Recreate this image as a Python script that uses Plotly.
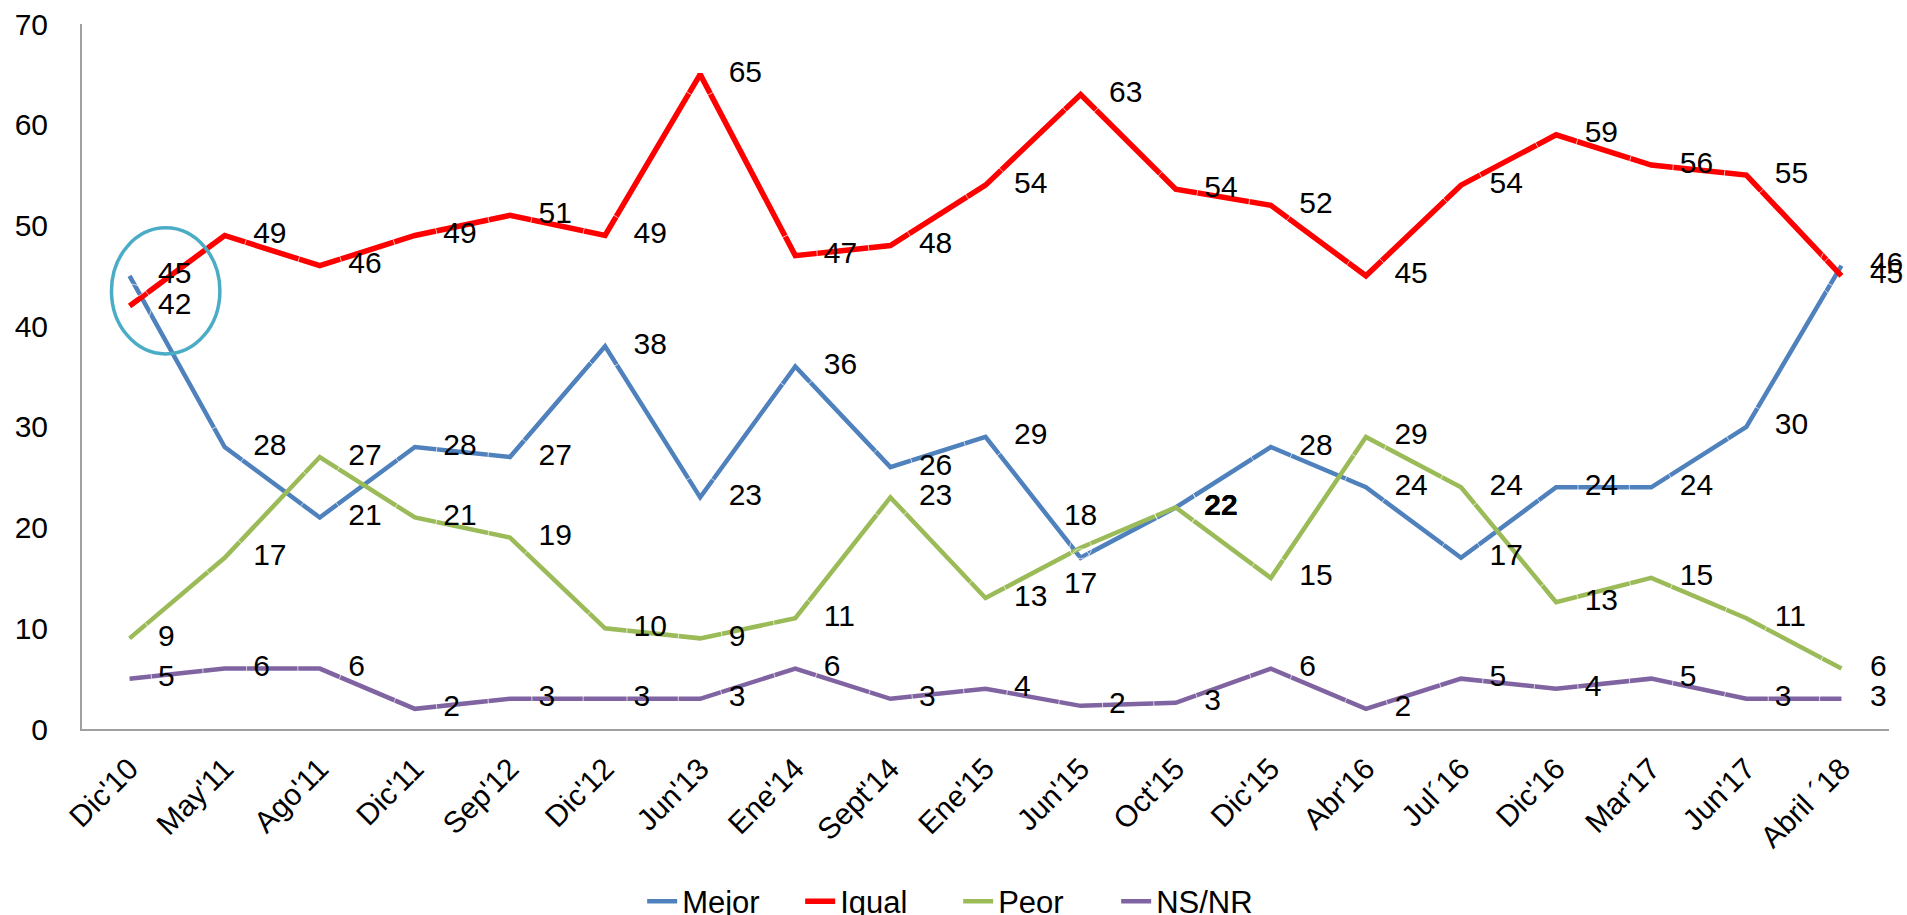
import plotly.graph_objects as go

categories = ["Dic'10", "May'11", "Ago'11", "Dic'11", "Sep'12", "Dic'12", "Jun'13",
              "Ene'14", "Sept'14", "Ene'15", "Jun'15", "Oct'15", "Dic'15", "Abr'16",
              "Jul´16", "Dic'16", "Mar'17", "Jun'17", "Abril ´18"]

mejor = [45, 28, 21, 28, 27, 38, 23, 36, 26, 29, 17, 22, 28, 24, 17, 24, 24, 30, 46]
igual = [42, 49, 46, 49, 51, 49, 65, 47, 48, 54, 63, 53.6, 52, 45, 54, 59, 56, 55, 45]
peor = [9, 17, 27, 21, 19, 10, 9, 11, 23, 13, 18, 22, 15, 29, 24, 12.6, 15, 11, 6]
nsnr = [5, 6, 6, 2, 3, 3, 3, 6, 3, 4, 2.3, 2.6, 6, 2, 5, 4, 5, 3, 3]

y_ticks = [0, 10, 20, 30, 40, 50, 60, 70]

series = [
    ("Mejor", mejor, "#4f81bd", 4.5),
    ("Igual", igual, "#ff0000", 5.5),
    ("Peor", peor, "#9bbb59", 4.5),
    ("NS/NR", nsnr, "#8064a2", 4.5),
]

n = len(categories)
# label placement (Excel-like: right of the point, a few moved manually)
positions = {name: ["middle right"] * n for name, *_ in series}
offsets = {name: [44] * n for name, *_ in series}
templates = {name: ["%{y:.0f}"] * n for name, *_ in series}
positions["Peor"][10] = "top center"
offsets["Peor"][10] = 22
positions["Mejor"][10] = "bottom center"
offsets["Mejor"][10] = 18
templates["Peor"][11] = "<b>%{y:.0f}</b>"
templates["Mejor"][11] = "<b>%{y:.0f}</b>"

FONT = "Liberation Sans, Arial, sans-serif"

fig = go.Figure()
for name, vals, color, width in series:
    fig.add_trace(go.Scatter(
        x=categories, y=vals, mode="lines", name=name,
        line=dict(color=color, width=width), hoverinfo="skip"))
for name, vals, color, width in series:
    fig.add_trace(go.Scatter(
        x=categories, y=vals, mode="markers+text", showlegend=False,
        marker=dict(size=offsets[name], color="rgba(0,0,0,0)"),
        texttemplate=templates[name],
        textposition=positions[name],
        textfont=dict(family=FONT, size=30, color="#000000"),
        cliponaxis=False, hoverinfo="skip"))

# highlight ellipse around the first survey
hx = 0.38
hy = (mejor[0] + igual[0]) / 2
fig.add_shape(type="circle", xref="x", yref="y",
              x0=hx - 0.57, x1=hx + 0.57, y0=hy - 6.26, y1=hy + 6.26,
              line=dict(color="#4bacc6", width=3.5))

fig.update_layout(
    width=1907, height=915,
    margin=dict(l=82, r=18, t=24, b=186, autoexpand=False),
    paper_bgcolor="white", plot_bgcolor="white",
    font=dict(family=FONT, size=30, color="#000000"),
    showlegend=True,
    legend=dict(orientation="h", x=0.31, xanchor="left", y=-0.245, yanchor="middle",
                font=dict(family=FONT, size=31), traceorder="normal",
                entrywidth=113, entrywidthmode="pixels"),
)
fig.update_xaxes(type="category", range=[-0.5, n - 0.5],
                 showline=True, linecolor="#a0a0a0", linewidth=2, automargin=False,
                 showgrid=False, ticks="", tickangle=-45, ticklabelstandoff=8,
                 tickfont=dict(family=FONT, size=30))
fig.update_yaxes(range=[0, 70], tickvals=y_ticks, showline=True, linecolor="#a0a0a0",
                 linewidth=2, showgrid=False, zeroline=False, ticks="", automargin=False,
                 tickfont=dict(family=FONT, size=30), ticklabelstandoff=26)

fig.write_html("out.html", config={"displayModeBar": False},
               post_script="document.body.style.margin='0px';document.body.style.overflow='hidden';")
